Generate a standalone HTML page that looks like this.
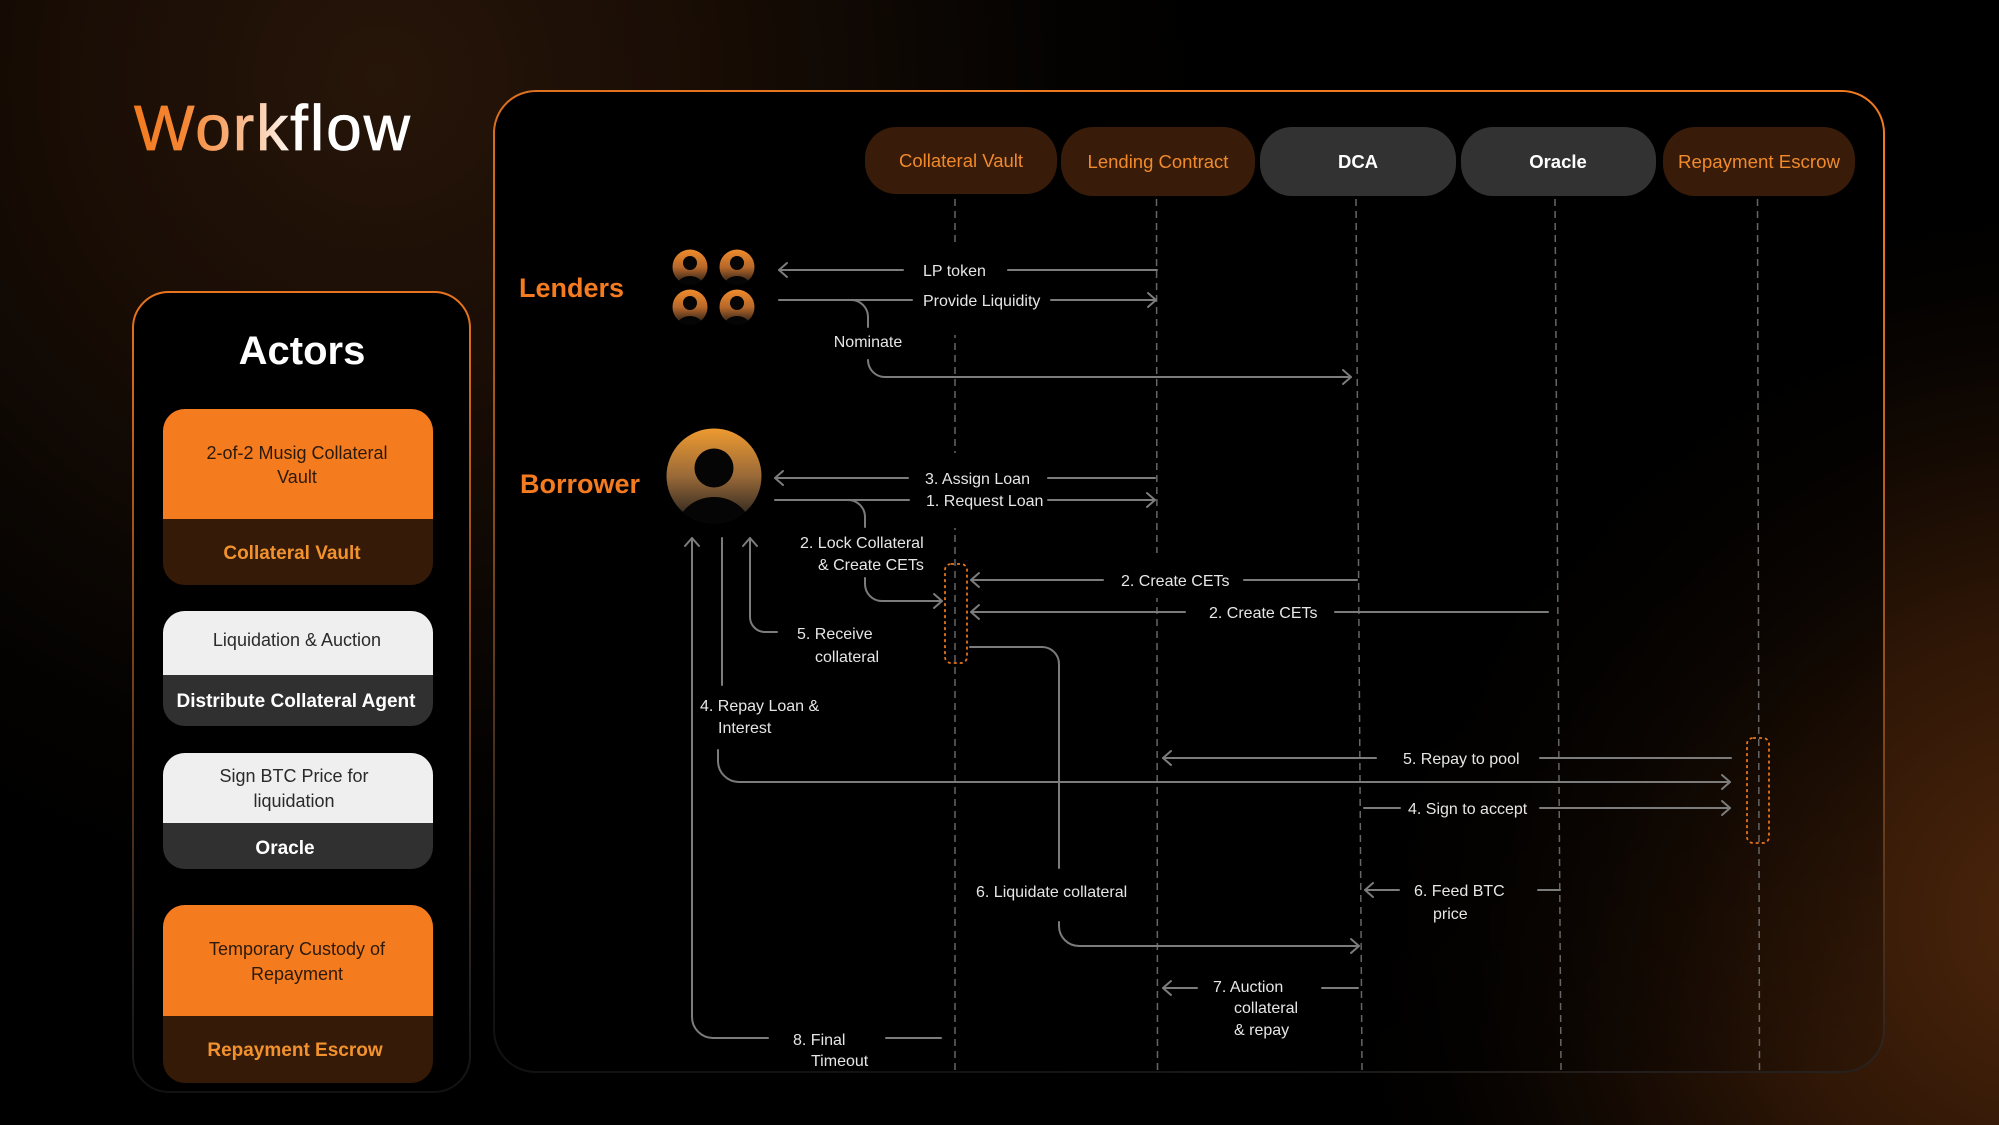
<!DOCTYPE html>
<html>
<head>
<meta charset="utf-8">
<style>
  html, body { margin: 0; padding: 0; background: #000; }
  body { width: 1999px; height: 1125px; overflow: hidden; }
  svg { display: block; }
  text { font-family: "Liberation Sans", Arial, sans-serif; }
</style>
</head>
<body>
<svg width="1999" height="1125" viewBox="0 0 1999 1125" xmlns="http://www.w3.org/2000/svg">
  <defs>
    <radialGradient id="gTL" cx="380" cy="80" r="900" gradientUnits="userSpaceOnUse">
      <stop offset="0" stop-color="#271509" stop-opacity="1"/>
      <stop offset="0.35" stop-color="#190d05" stop-opacity="1"/>
      <stop offset="0.7" stop-color="#070402" stop-opacity="1"/>
      <stop offset="1" stop-color="#000" stop-opacity="0"/>
    </radialGradient>
    <radialGradient id="gBR" cx="2060" cy="920" r="760" gradientUnits="userSpaceOnUse">
      <stop offset="0" stop-color="#4d260b" stop-opacity="1"/>
      <stop offset="0.4" stop-color="#2e1606" stop-opacity="1"/>
      <stop offset="0.75" stop-color="#0c0602" stop-opacity="0.8"/>
      <stop offset="1" stop-color="#000" stop-opacity="0"/>
    </radialGradient>
    <linearGradient id="panelFill" x1="0" y1="0" x2="1" y2="1">
      <stop offset="0" stop-color="#000" stop-opacity="1"/>
      <stop offset="0.55" stop-color="#000" stop-opacity="1"/>
      <stop offset="1" stop-color="#000" stop-opacity="0.1"/>
    </linearGradient>
    <linearGradient id="panelStroke" x1="0.5" y1="0" x2="0.3" y2="1">
      <stop offset="0" stop-color="#f07a20"/>
      <stop offset="0.45" stop-color="#9a5118"/>
      <stop offset="0.85" stop-color="#2a2320"/>
      <stop offset="1" stop-color="#121212"/>
    </linearGradient>
    <linearGradient id="actorsStroke" x1="0" y1="0" x2="0" y2="1">
      <stop offset="0" stop-color="#e8751e"/>
      <stop offset="0.45" stop-color="#7a4018"/>
      <stop offset="0.85" stop-color="#262220"/>
      <stop offset="1" stop-color="#121212"/>
    </linearGradient>
    <linearGradient id="titleGrad" x1="134" y1="0" x2="414" y2="0" gradientUnits="userSpaceOnUse">
      <stop offset="0" stop-color="#f47b20"/>
      <stop offset="0.18" stop-color="#f58634"/>
      <stop offset="0.42" stop-color="#f9c29a"/>
      <stop offset="0.58" stop-color="#ffffff"/>
      <stop offset="1" stop-color="#ffffff"/>
    </linearGradient>
    <linearGradient id="avSmall" x1="0" y1="0" x2="0" y2="1">
      <stop offset="0" stop-color="#f08c2c"/>
      <stop offset="0.5" stop-color="#b8682a"/>
      <stop offset="1" stop-color="#1e1a18"/>
    </linearGradient>
    <linearGradient id="avBig" x1="0" y1="0" x2="0" y2="1">
      <stop offset="0" stop-color="#ee9a30"/>
      <stop offset="0.5" stop-color="#9a6a38"/>
      <stop offset="1" stop-color="#1c1c1c"/>
    </linearGradient>
    <clipPath id="cBig"><circle cx="714" cy="476" r="47.5"/></clipPath>
    <clipPath id="cS1"><circle cx="690" cy="267" r="17.5"/></clipPath>
    <clipPath id="cS2"><circle cx="737" cy="267" r="17.5"/></clipPath>
    <clipPath id="cS3"><circle cx="690" cy="307" r="17.5"/></clipPath>
    <clipPath id="cS4"><circle cx="737" cy="307" r="17.5"/></clipPath>
  </defs>

  <!-- Background -->
  <rect x="0" y="0" width="1999" height="1125" fill="#000"/>
  <rect x="0" y="0" width="1999" height="1125" fill="url(#gTL)"/>
  <rect x="0" y="0" width="1999" height="1125" fill="url(#gBR)"/>

  <!-- Title -->
  <text x="134" y="150" font-size="64" letter-spacing="2" fill="url(#titleGrad)" stroke="url(#titleGrad)" stroke-width="0.8">Workflow</text>

  <!-- Actors panel -->
  <rect x="133" y="292" width="337" height="800" rx="36" ry="36" fill="#000" stroke="url(#actorsStroke)" stroke-width="2"/>
  <text x="302" y="364" font-size="40" font-weight="bold" fill="#fff" text-anchor="middle">Actors</text>

  <!-- Card 1 -->
  <rect x="163" y="409" width="270" height="176" rx="22" fill="#351a08"/>
  <path d="M163 431 A22 22 0 0 1 185 409 L411 409 A22 22 0 0 1 433 431 L433 519 L163 519 Z" fill="#f57b1f"/>
  <text x="297" y="459" font-size="18" fill="#2b1a0c" text-anchor="middle">2-of-2 Musig Collateral</text>
  <text x="297" y="483" font-size="18" fill="#2b1a0c" text-anchor="middle">Vault</text>
  <text x="292" y="559" font-size="19" font-weight="bold" fill="#f2922e" text-anchor="middle">Collateral Vault</text>

  <!-- Card 2 -->
  <rect x="163" y="611" width="270" height="115" rx="22" fill="#303030"/>
  <path d="M163 633 A22 22 0 0 1 185 611 L411 611 A22 22 0 0 1 433 633 L433 675 L163 675 Z" fill="#efefef"/>
  <text x="297" y="646" font-size="18" fill="#2a2a2a" text-anchor="middle">Liquidation &amp; Auction</text>
  <text x="296" y="707" font-size="19" font-weight="bold" fill="#fff" text-anchor="middle">Distribute Collateral Agent</text>

  <!-- Card 3 -->
  <rect x="163" y="753" width="270" height="116" rx="22" fill="#303030"/>
  <path d="M163 775 A22 22 0 0 1 185 753 L411 753 A22 22 0 0 1 433 775 L433 823 L163 823 Z" fill="#efefef"/>
  <text x="294" y="782" font-size="18" fill="#2a2a2a" text-anchor="middle">Sign BTC Price for</text>
  <text x="294" y="807" font-size="18" fill="#2a2a2a" text-anchor="middle">liquidation</text>
  <text x="285" y="854" font-size="19" font-weight="bold" fill="#fff" text-anchor="middle">Oracle</text>

  <!-- Card 4 -->
  <rect x="163" y="905" width="270" height="178" rx="22" fill="#351a08"/>
  <path d="M163 927 A22 22 0 0 1 185 905 L411 905 A22 22 0 0 1 433 927 L433 1016 L163 1016 Z" fill="#f57b1f"/>
  <text x="297" y="955" font-size="18" fill="#2b1a0c" text-anchor="middle">Temporary Custody of</text>
  <text x="297" y="980" font-size="18" fill="#2b1a0c" text-anchor="middle">Repayment</text>
  <text x="295" y="1056" font-size="19" font-weight="bold" fill="#f2922e" text-anchor="middle">Repayment Escrow</text>

  <!-- Main panel -->
  <rect x="494" y="91" width="1390" height="981" rx="42" ry="42" fill="url(#panelFill)" stroke="url(#panelStroke)" stroke-width="2"/>

  <!-- Header pills -->
  <rect x="865" y="127" width="192" height="67" rx="31" fill="#381b08"/>
  <text x="961" y="167" font-size="18.5" fill="#f08a2c" text-anchor="middle">Collateral Vault</text>
  <rect x="1061" y="127" width="194" height="69" rx="32" fill="#381b08"/>
  <text x="1158" y="168" font-size="18.5" fill="#f08a2c" text-anchor="middle">Lending Contract</text>
  <rect x="1260" y="127" width="196" height="69" rx="32" fill="#323232"/>
  <text x="1358" y="168" font-size="18.5" font-weight="bold" fill="#fff" text-anchor="middle">DCA</text>
  <rect x="1461" y="127" width="195" height="69" rx="32" fill="#323232"/>
  <text x="1558" y="168" font-size="18.5" font-weight="bold" fill="#fff" text-anchor="middle">Oracle</text>
  <rect x="1663" y="127" width="192" height="69" rx="32" fill="#381b08"/>
  <text x="1759" y="168" font-size="18.5" fill="#f08a2c" text-anchor="middle" textLength="162" lengthAdjust="spacingAndGlyphs">Repayment Escrow</text>

  <!-- Lifelines -->
  <g stroke="#666" stroke-width="1.5" stroke-dasharray="7 5" fill="none">
    <line x1="955" y1="199" x2="955" y2="1070"/>
    <line x1="1156.5" y1="199" x2="1157.5" y2="1070"/>
    <line x1="1356" y1="199" x2="1362" y2="1070"/>
    <line x1="1555" y1="199" x2="1561" y2="1070"/>
    <line x1="1757.5" y1="199" x2="1759.5" y2="1070"/>
  </g>
  <!-- lifeline masks behind labels -->
  <g fill="#000">
    <rect x="945" y="243" width="20" height="92"/>
    <rect x="945" y="453" width="20" height="75"/>
    <rect x="1147" y="553" width="20" height="45"/>
  </g>

  <!-- Avatars: lenders -->
  <g>
    <circle cx="690" cy="267" r="17.5" fill="url(#avSmall)"/>
    <g clip-path="url(#cS1)"><circle cx="690" cy="263" r="7" fill="#050505"/><ellipse cx="690" cy="288" rx="14" ry="12" fill="#050505"/></g>
    <circle cx="737" cy="267" r="17.5" fill="url(#avSmall)"/>
    <g clip-path="url(#cS2)"><circle cx="737" cy="263" r="7" fill="#050505"/><ellipse cx="737" cy="288" rx="14" ry="12" fill="#050505"/></g>
    <circle cx="690" cy="307" r="17.5" fill="url(#avSmall)"/>
    <g clip-path="url(#cS3)"><circle cx="690" cy="303" r="7" fill="#050505"/><ellipse cx="690" cy="328" rx="14" ry="12" fill="#050505"/></g>
    <circle cx="737" cy="307" r="17.5" fill="url(#avSmall)"/>
    <g clip-path="url(#cS4)"><circle cx="737" cy="303" r="7" fill="#050505"/><ellipse cx="737" cy="328" rx="14" ry="12" fill="#050505"/></g>
  </g>
  <!-- Avatar: borrower -->
  <circle cx="714" cy="476" r="47.5" fill="url(#avBig)"/>
  <g clip-path="url(#cBig)">
    <circle cx="714" cy="468" r="19.5" fill="#050505"/>
    <ellipse cx="714" cy="532" rx="38" ry="35" fill="#050505"/>
  </g>

  <!-- Role labels -->
  <text x="519" y="297" font-size="27" font-weight="bold" fill="#f47b20">Lenders</text>
  <text x="520" y="493" font-size="27" font-weight="bold" fill="#f47b20">Borrower</text>

  <!-- Activation boxes -->
  <g fill="none" stroke="#e4741c" stroke-width="1.8" stroke-dasharray="3 3">
    <rect x="945" y="564" width="22" height="99" rx="6"/>
    <rect x="1747" y="738" width="22" height="105" rx="6"/>
  </g>

  <!-- Connectors -->
  <g stroke="#7c7c7c" stroke-width="2" fill="none" stroke-linecap="round" stroke-linejoin="round">
    <path d="M779 270 L903 270 M1008 270 L1157 270"/>
    <path d="M787 263 L779 270 L787 277"/>
    <path d="M779 300 L912 300 M1051 300 L1156 300"/>
    <path d="M1148 293 L1156 300 L1148 307"/>
    <path d="M851 300 A17 17 0 0 1 868 317 L868 327"/>
    <path d="M868 360 A17 17 0 0 0 885 377 L1351 377"/>
    <path d="M1343 370 L1351 377 L1343 384"/>
    <path d="M775 478 L908 478 M1048 478 L1155 478"/>
    <path d="M783 471 L775 478 L783 485"/>
    <path d="M775 500 L909 500 M1048 500 L1155 500"/>
    <path d="M1147 493 L1155 500 L1147 507"/>
    <path d="M848 500 A17 17 0 0 1 865 517 L865 527"/>
    <path d="M865 578 L865 584 A17 17 0 0 0 882 601 L942 601"/>
    <path d="M934 594 L942 601 L934 608"/>
    <path d="M971 580 L1103 580 M1244 580 L1357 580"/>
    <path d="M979 573 L971 580 L979 587"/>
    <path d="M971 612 L1185 612 M1335 612 L1548 612"/>
    <path d="M979 605 L971 612 L979 619"/>
    <path d="M970 647 L1042 647 A17 17 0 0 1 1059 664 L1059 868"/>
    <path d="M1059 922 L1059 926 A20 20 0 0 0 1079 946 L1359 946"/>
    <path d="M1351 939 L1359 946 L1351 953"/>
    <path d="M692 538 L692 1017 A21 21 0 0 0 713 1038 L768 1038"/>
    <path d="M685 546 L692 538 L699 546"/>
    <path d="M886 1038 L941 1038"/>
    <path d="M722 538 L722 685"/>
    <path d="M718 750 L718 761 A21 21 0 0 0 739 782 L1730 782"/>
    <path d="M1722 775 L1730 782 L1722 789"/>
    <path d="M750 538 L750 617 A15 15 0 0 0 765 632 L777 632"/>
    <path d="M743 546 L750 538 L757 546"/>
    <path d="M1163 758 L1376 758 M1540 758 L1731 758"/>
    <path d="M1171 751 L1163 758 L1171 765"/>
    <path d="M1364 808 L1400 808 M1540 808 L1730 808"/>
    <path d="M1722 801 L1730 808 L1722 815"/>
    <path d="M1365 890 L1399 890 M1538 890 L1560 890"/>
    <path d="M1373 883 L1365 890 L1373 897"/>
    <path d="M1163 988 L1197 988 M1322 988 L1358 988"/>
    <path d="M1171 981 L1163 988 L1171 995"/>
  </g>

  <!-- Connector labels -->
  <g font-size="16" fill="#e6e6e6">
    <text x="923" y="276">LP token</text>
    <text x="923" y="306">Provide Liquidity</text>
    <text x="868" y="347" text-anchor="middle">Nominate</text>
    <text x="925" y="484">3. Assign Loan</text>
    <text x="926" y="506">1. Request Loan</text>
    <text x="800" y="548">2. Lock Collateral</text>
    <text x="818" y="570">&amp; Create CETs</text>
    <text x="1121" y="586">2. Create CETs</text>
    <text x="1209" y="618">2. Create CETs</text>
    <text x="797" y="639">5. Receive</text>
    <text x="815" y="662">collateral</text>
    <text x="700" y="711">4. Repay Loan &amp;</text>
    <text x="718" y="733">Interest</text>
    <text x="976" y="897">6. Liquidate collateral</text>
    <text x="1403" y="764">5. Repay to pool</text>
    <text x="1408" y="814">4. Sign to accept</text>
    <text x="1414" y="896">6. Feed BTC</text>
    <text x="1433" y="919">price</text>
    <text x="1213" y="992">7. Auction</text>
    <text x="1234" y="1013">collateral</text>
    <text x="1234" y="1035">&amp; repay</text>
    <text x="793" y="1045">8. Final</text>
    <text x="811" y="1066">Timeout</text>
  </g>
</svg>
</body>
</html>
